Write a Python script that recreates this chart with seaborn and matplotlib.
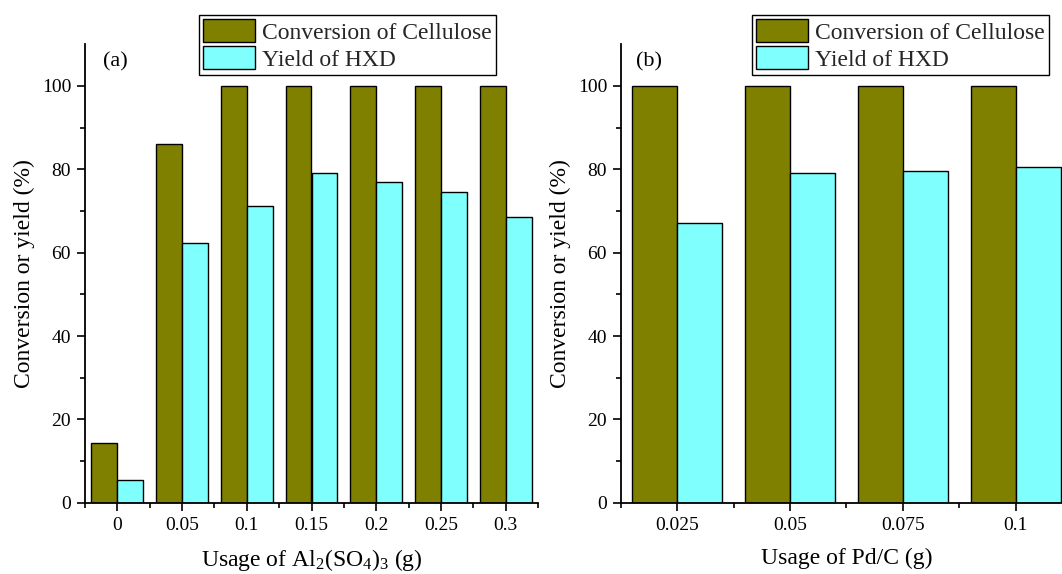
import matplotlib
matplotlib.use("Agg")
import matplotlib.pyplot as plt
from matplotlib.ticker import FixedLocator
import seaborn as sns
import pandas as pd

# ---- data ----
series_names = ["Conversion of Cellulose", "Yield of HXD"]

al_usage = ["0", "0.05", "0.1", "0.15", "0.2", "0.25", "0.3"]
al_conversion = [14.4, 86.1, 100, 100, 100, 100, 100]
al_yield = [5.5, 62.3, 71.3, 79.1, 77.0, 74.6, 68.6]

pd_usage = ["0.025", "0.05", "0.075", "0.1"]
pd_conversion = [100, 100, 100, 100]
pd_yield = [67.0, 79.0, 79.5, 80.6]

colors = ["#808000", "#80FFFF"]

sns.set_theme(style="ticks")
plt.rcParams["font.family"] = ["Liberation Serif", "DejaVu Serif"]
plt.rcParams["mathtext.fontset"] = "custom"
plt.rcParams["mathtext.rm"] = "Liberation Serif"
plt.rcParams["mathtext.it"] = "Liberation Serif:italic"


def long_df(cats, conv, yld):
    return pd.DataFrame({
        "usage": list(cats) * 2,
        "value": list(conv) + list(yld),
        "series": [series_names[0]] * len(cats) + [series_names[1]] * len(cats),
    })


fig = plt.figure(figsize=(10.62, 5.74), dpi=100)
ax_a = fig.add_axes([85 / 1062, 71.3 / 574, 453 / 1062, 458.4 / 574])
ax_b = fig.add_axes([621 / 1062, 71.3 / 574, 451 / 1062, 458.4 / 574])

panels = [
    (ax_a, al_usage, al_conversion, al_yield, "(a)", -0.22, 0.1874,
     "Usage of Al$_2$(SO$_4$)$_3$ (g)"),
    (ax_b, pd_usage, pd_conversion, pd_yield, "(b)", -0.37, 0.7081,
     "Usage of Pd/C (g)"),
]

for ax, cats, conv, yld, tag, tagx, legx, xlabel in panels:
    df = long_df(cats, conv, yld)
    sns.barplot(data=df, x="usage", y="value", hue="series", order=cats,
                hue_order=series_names, palette=colors, saturation=1,
                edgecolor="black", linewidth=1.0, width=0.8, ax=ax,
                errorbar=None)
    n = len(cats)
    ax.set_xlim(-0.5, n - 0.5)
    ax.set_ylim(0, 110)
    ax.yaxis.set_major_locator(FixedLocator([0, 20, 40, 60, 80, 100]))
    ax.yaxis.set_minor_locator(FixedLocator([10, 30, 50, 70, 90]))
    ax.xaxis.set_minor_locator(FixedLocator([i - 0.5 for i in range(n + 1)]))
    for s in ["top", "right"]:
        ax.spines[s].set_visible(False)
    for s in ["left", "bottom"]:
        ax.spines[s].set_linewidth(1.3)
        ax.spines[s].set_color("black")
    ax.tick_params(axis="both", which="major", direction="out", length=6,
                   width=1.2, labelsize=14, colors="black", pad=4)
    ax.tick_params(axis="both", which="minor", direction="out", length=3.5,
                   width=1.2, colors="black")
    ax.set_xlabel(xlabel, fontsize=17, labelpad=10, color="black")
    ax.set_ylabel("Conversion or yield (%)", fontsize=17, labelpad=5,
                  color="black")
    ax.text(tagx, 105.8, tag, fontsize=16, va="center", ha="left",
            color="black")
    ax.legend(loc="upper left", bbox_to_anchor=(legx, 0.974),
              bbox_transform=fig.transFigure, fontsize=17, frameon=True,
              fancybox=False, edgecolor="black", framealpha=1,
              handlelength=2.2, handleheight=1.1, labelspacing=0.12,
              borderpad=0.18, handletextpad=0.3, borderaxespad=0)
    ax.get_legend().get_frame().set_linewidth(1.0)
    for p in ax.get_legend().get_patches():
        p.set_edgecolor("black")
        p.set_linewidth(1.0)

fig.savefig("out.png", dpi=100)
